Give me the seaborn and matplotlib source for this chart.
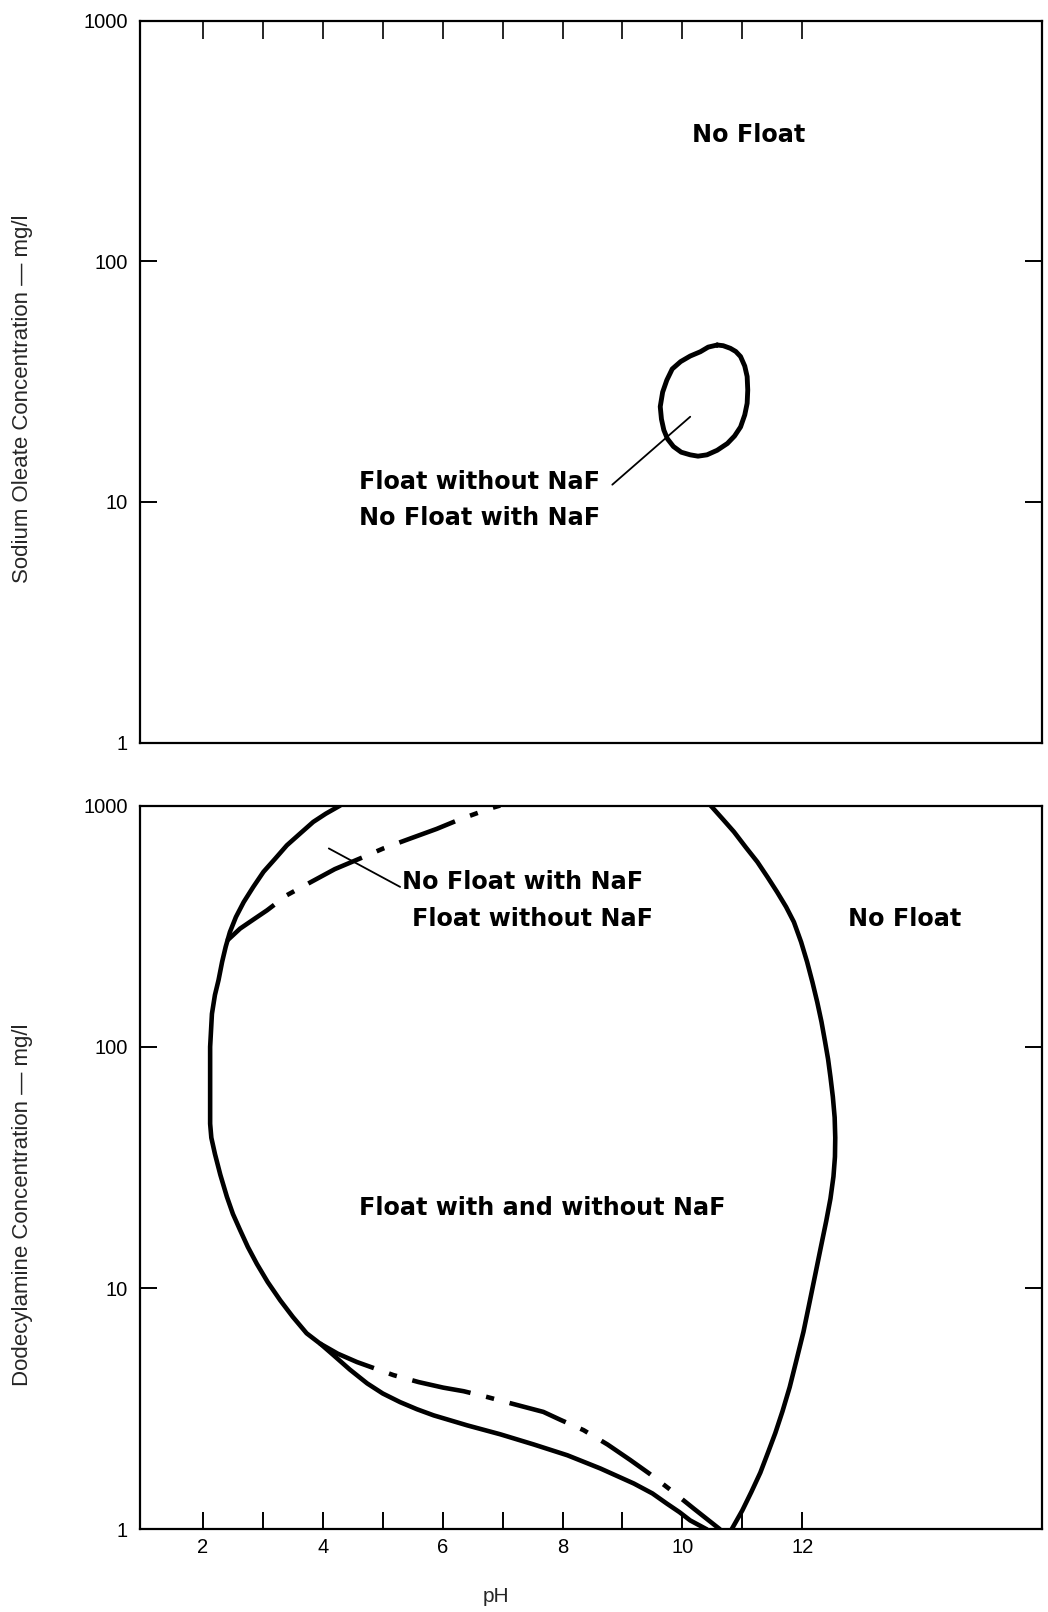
import numpy as np
import pandas as pd
import matplotlib
matplotlib.use("Agg")
import matplotlib.pyplot as plt
import seaborn as sns

sns.set_theme(style="white")
plt.rcParams['font.family'] = ['Liberation Sans', 'DejaVu Sans']

# ---------------- data ----------------
# Top panel: sodium oleate closed region (pH, mg/l)
oleate_loop_ph = [10.58, 10.43, 10.30, 10.13, 9.97, 9.83, 9.74, 9.67, 9.63, 9.65, 9.69, 9.75,
                  9.85, 9.98, 10.13, 10.26, 10.41, 10.58, 10.75, 10.87, 10.97, 11.04, 11.08,
                  11.09, 11.08, 11.04, 10.97, 10.89, 10.80, 10.68, 10.58]
oleate_loop_conc = [44.9, 44.0, 42.1, 40.4, 38.3, 35.7, 32.1, 28.6, 24.9, 22.1, 19.9, 18.3,
                    17.0, 16.1, 15.7, 15.5, 15.7, 16.4, 17.5, 18.8, 20.5, 23.0, 25.7,
                    29.2, 33.2, 36.7, 40.2, 42.2, 43.5, 44.6, 44.9]

# Bottom panel: dodecylamine
left_solid_ph = [4.29, 4.05, 3.84, 3.62, 3.40, 3.20, 3.01, 2.84, 2.68, 2.55, 2.45, 2.38, 2.32,
                 2.26, 2.20, 2.15, 2.12, 2.12, 2.12, 2.14, 2.20, 2.29, 2.40, 2.50, 2.62, 2.75,
                 2.90, 3.08, 3.29, 3.50, 3.73, 3.97, 4.18, 4.45, 4.74, 5.00, 5.29, 5.57, 5.85,
                 6.41, 6.96, 7.52, 8.08, 8.63, 9.19, 9.50, 9.74, 9.95, 10.13, 10.41]
left_solid_conc = [1000, 925, 855, 765, 684, 600, 531, 460, 398, 345, 299, 260, 225,
                   189, 164, 137, 100, 70, 48, 42, 36, 29.5, 23.9, 20.3, 17.4, 14.8,
                   12.6, 10.6, 8.9, 7.6, 6.5, 5.85, 5.27, 4.6, 4.03, 3.66, 3.37, 3.15, 2.97,
                   2.70, 2.48, 2.25, 2.03, 1.79, 1.55, 1.41, 1.28, 1.18, 1.09, 1.0]

right_solid_ph = [10.47, 10.67, 10.86, 11.06, 11.25, 11.42, 11.58, 11.73, 11.86, 11.98, 12.08,
                  12.17, 12.25, 12.32, 12.38, 12.43, 12.47, 12.51, 12.54, 12.55, 12.545, 12.52,
                  12.47, 12.40, 12.31, 12.22, 12.12, 12.02, 11.90, 11.79, 11.67, 11.55, 11.43,
                  11.30, 11.15, 11.00, 10.82]
right_solid_conc = [1000, 880, 778, 670, 584, 505, 438, 380, 329, 272, 225,
                    185, 153, 127, 105, 89, 75, 62, 51, 42, 35, 29,
                    23.5, 19.0, 14.8, 11.5, 8.7, 6.6, 5.0, 3.89, 3.09, 2.51, 2.09,
                    1.72, 1.43, 1.20, 1.0]

upper_dashdot_ph = [2.40, 2.62, 2.85, 3.07, 3.40, 3.79, 4.20, 4.68, 5.01, 5.46, 5.90, 6.29,
                    6.79, 6.96]
upper_dashdot_conc = [275, 309, 338, 368, 425, 480, 545, 612, 664, 730, 800, 877,
                      972, 1000]

lower_dashdot_ph = [3.95, 4.25, 4.57, 5.18, 5.60, 6.01, 6.35, 6.74, 7.20, 7.68, 7.96, 8.35,
                    8.75, 9.13, 9.44, 9.80, 10.19, 10.63]
lower_dashdot_conc = [5.9, 5.35, 4.94, 4.36, 4.08, 3.87, 3.74, 3.54, 3.30, 3.07, 2.85, 2.58,
                      2.25, 1.94, 1.71, 1.46, 1.22, 1.0]

# leader lines
top_leader_ph = [8.83, 10.13]
top_leader_conc = [11.8, 22.6]
bot_leader_ph = [4.10, 5.29]
bot_leader_conc = [664, 460]

x_ticks = [2, 3, 4, 5, 6, 7, 8, 9, 10, 11, 12]
x_tick_labels = ['2', '', '4', '', '6', '', '8', '', '10', '', '12']
y_ticks = [1, 10, 100, 1000]
y_tick_labels = ['1', '10', '100', '1000']

# ---------------- figure ----------------
fig = plt.figure(figsize=(10.48, 16.12), dpi=100)
ax1 = fig.add_axes([0.1336, 0.5393, 0.8607, 0.4479])
ax2 = fig.add_axes([0.1336, 0.0512, 0.8607, 0.4491])

for ax in (ax1, ax2):
    ax.set_yscale('log')
    ax.set_ylim(1, 1000)
    ax.set_xlim(0.95, 16.0)
    ax.set_facecolor('white')
    for s in ax.spines.values():
        s.set_color('black')
        s.set_linewidth(1.6)
        s.set_visible(True)
    ax.set_yticks(y_ticks)
    ax.set_yticklabels(y_tick_labels)
    ax.yaxis.set_minor_locator(matplotlib.ticker.NullLocator())
    ax.tick_params(axis='y', which='major', direction='in', length=12, width=1.4,
                   left=True, right=True, labelleft=True, labelright=False,
                   labelsize=14.5, pad=9, colors='black')
    ax.set_xticks(x_ticks)
    ax.grid(False)

ax1.tick_params(axis='x', direction='in', length=13, width=1.4, top=True, bottom=False,
                labeltop=False, labelbottom=False)
ax2.tick_params(axis='x', direction='in', length=12, width=1.4, top=False, bottom=True,
                labelbottom=True, labelsize=14.5, pad=6, colors='black')
ax2.set_xticklabels(x_tick_labels)

lw = 3.3
# top panel loop
sns.lineplot(x=oleate_loop_ph, y=oleate_loop_conc, sort=False, estimator=None,
             color='black', lw=3.5, ax=ax1)
sns.lineplot(x=top_leader_ph, y=top_leader_conc, sort=False, estimator=None,
             color='black', lw=1.3, ax=ax1)

# bottom panel curves
sns.lineplot(x=left_solid_ph, y=left_solid_conc, sort=False, estimator=None,
             color='black', lw=lw, ax=ax2)
sns.lineplot(x=right_solid_ph, y=right_solid_conc, sort=False, estimator=None,
             color='black', lw=lw, ax=ax2)
dd = (0, (13, 3.5, 1.8, 3.5))
sns.lineplot(x=upper_dashdot_ph, y=upper_dashdot_conc, sort=False, estimator=None,
             color='black', lw=lw, linestyle=dd, ax=ax2)
sns.lineplot(x=lower_dashdot_ph, y=lower_dashdot_conc, sort=False, estimator=None,
             color='black', lw=lw, linestyle=dd, ax=ax2)
sns.lineplot(x=bot_leader_ph, y=bot_leader_conc, sort=False, estimator=None,
             color='black', lw=1.3, ax=ax2)

for ax in (ax1, ax2):
    ax.set_xlabel('')
    ax.set_ylabel('')

bold = dict(fontsize=17.2, fontweight='bold', family=['DejaVu Sans'], color='black')
ax1.text(11.10, 336, 'No Float', ha='center', va='center', **bold)
ax1.text(6.62, 12.1, 'Float without NaF', ha='center', va='center', **bold)
ax1.text(6.62, 8.55, 'No Float with NaF', ha='center', va='center', **bold)

ax2.text(5.32, 483, 'No Float with NaF', ha='left', va='center', **bold)
ax2.text(7.50, 340, 'Float without NaF', ha='center', va='center', **bold)
ax2.text(13.71, 340, 'No Float', ha='center', va='center', **bold)
ax2.text(7.66, 21.4, 'Float with and without NaF', ha='center', va='center', **bold)

fig.text(22.6 / 1048, 1 - 399 / 1612, 'Sodium Oleate Concentration \u2014 mg/l',
         rotation=90, ha='center', va='center', fontsize=16)
fig.text(22.6 / 1048, 1 - 1205 / 1612, 'Dodecylamine Concentration \u2014 mg/l',
         rotation=90, ha='center', va='center', fontsize=16)
fig.text(495.7 / 1048, 1 - 1596 / 1612, 'pH', ha='center', va='center', fontsize=15)

fig.savefig('out.png', dpi=100, facecolor='white')
